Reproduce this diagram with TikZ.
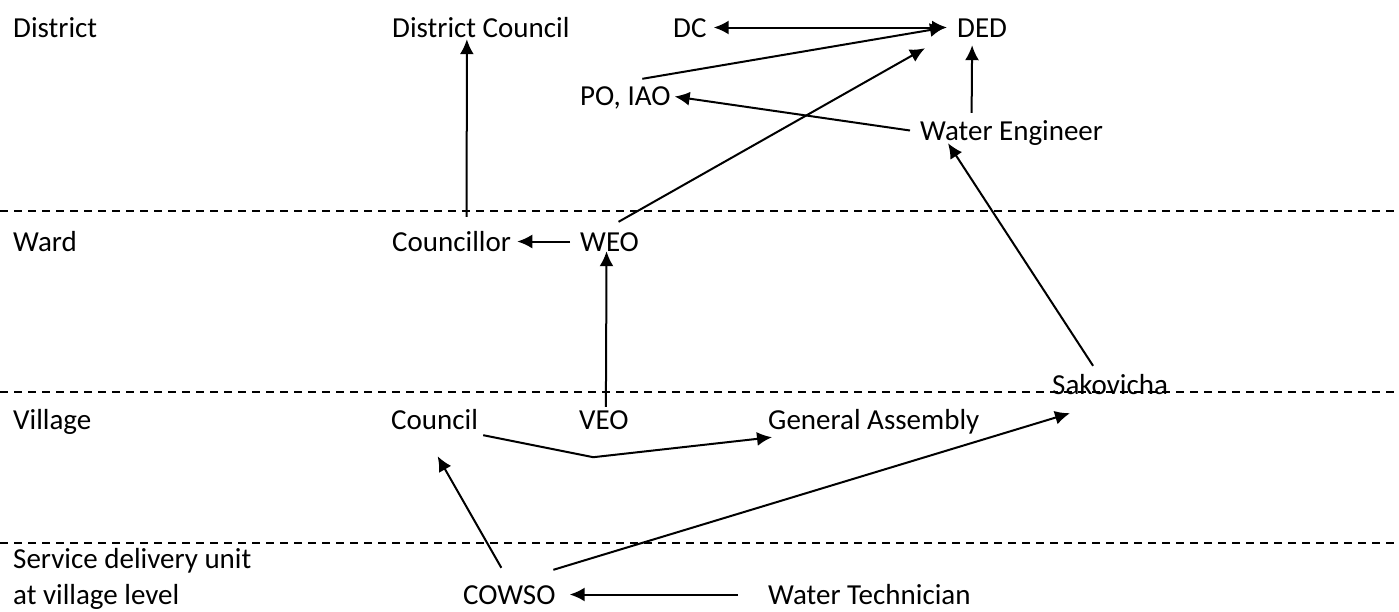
\documentclass[tikz,border=0pt]{standalone}
\usepackage{fontspec}
\setmainfont{Carlito}
\usetikzlibrary{positioning,calc,arrows.meta}

\begin{document}
\begin{tikzpicture}[x=1pt,y=1pt,
    lbl/.style={anchor=base west,inner sep=0pt,text height=19pt,text depth=0pt,
        font=\fontsize{29}{36}\selectfont},
    arr/.style={draw,line width=2pt,-{Latex[length=15pt,width=14pt]}},
    dbl/.style={draw,line width=2pt,{Latex[length=15pt,width=14pt]}-{Latex[length=15pt,width=14pt]}},
    level/.style={line width=2.2pt,dash pattern=on 8pt off 6pt}]
    \useasboundingbox (0,0) rectangle (1399,-611);
    % level borders
    \draw[level] (0,-211) -- (1399,-211);
    \draw[level] (0,-392) -- (1399,-392);
    \draw[level] (0,-543) -- (1399,-543);

    \node[lbl] (District) at (13,-37) {District};
    \node[lbl] (DistCouncil) at (392,-37) {District Council};
    \node[lbl] (DC) at (673,-37) {DC};
    \node[lbl] (DED) at (957,-37) {DED};
    \node[lbl] (POIAO) at (580,-105) {PO, IAO};
    \node[lbl] (WaterEng) at (920,-140) {Water Engineer};

    \node[lbl] (Ward) at (13,-251) {Ward};
    \node[lbl] (Councillor) at (392,-251) {Councillor};
    \node[lbl] (WEO) at (580,-251) {WEO};

    \node[lbl] (Sakovicha) at (1052,-394) {Sakovicha};
    \node[lbl] (Village) at (13,-429) {Village};
    \node[lbl] (Council) at (391,-429) {Council};
    \node[lbl] (VEO) at (579,-429) {VEO};
    \node[lbl] (GenAssembly) at (768,-429) {General Assembly};

    \node[anchor=north west,inner sep=0pt,align=left,
        font=\fontsize{29}{36}\selectfont] (ServiceUnit) at (13,-548)
        {Service delivery unit\\at village level};
    \node[lbl] (COWSO) at (463,-604) {COWSO};
    \node[lbl] (WaterTech) at (768,-604) {Water Technician};

    % reporting lines
    \path[dbl] (DC.east) ++(7,0) -- ([xshift=-10pt]DED.west);
    \path
        ([xshift=17pt,yshift=7pt]POIAO.north) edge[arr] ([xshift=-12pt]DED.west)
        ([xshift=-10pt]WaterEng.west) edge[arr] ([xshift=4pt,yshift=-1pt]POIAO.east)
        ([xshift=-40pt,yshift=8pt]WaterEng.north) edge[arr] ([xshift=-10pt,yshift=-8pt]DED.south)
        ([xshift=15pt,yshift=15pt]Councillor.north) edge[arr] ([xshift=-14pt,yshift=-2pt]DistCouncil.south)
        ([xshift=-10pt]WEO.west) edge[arr] ([xshift=6pt]Councillor.east)
        ([xshift=9pt,yshift=10pt]WEO.north) edge[arr] ([xshift=-32pt,yshift=-11pt]DED.south west)
        ([xshift=2pt,yshift=3pt]VEO.north) edge[arr] ([xshift=-3pt]WEO.south)
        ([xshift=-17pt,yshift=9pt]Sakovicha.north) edge[arr] ([xshift=28pt,yshift=-3pt]WaterEng.south west)
        ([xshift=-8pt,yshift=17pt]COWSO.north) edge[arr] ([xshift=3pt,yshift=-27pt]Council.south)
        ([xshift=44pt,yshift=15pt]COWSO.north) edge[arr] ([xshift=18pt,yshift=-19pt]Sakovicha.south west)
        ([xshift=-30pt]WaterTech.west) edge[arr] ([xshift=14pt]COWSO.east);
    \path[arr] ([xshift=5pt,yshift=-6pt]Council.south east) -- ++(110,-22)
        -- ([xshift=4pt,yshift=-8pt]GenAssembly.south west);
\end{tikzpicture}
\end{document}
